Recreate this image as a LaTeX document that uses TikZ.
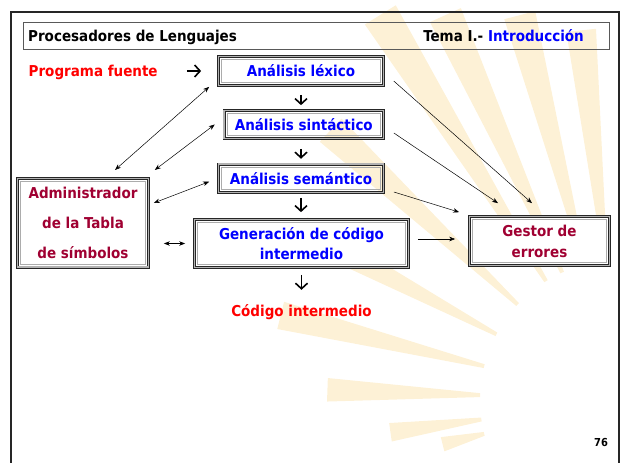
\documentclass[tikz,border=0pt]{standalone}
\usepackage{fontspec}
\IfFontExistsTF{DejaVu Sans Condensed}{\setmainfont{DejaVu Sans Condensed}}{\setmainfont{DejaVu Sans}[FakeStretch=0.9]}
\usetikzlibrary{arrows.meta}
\definecolor{azul}{RGB}{0,0,255}
\definecolor{rojo}{RGB}{255,0,0}
\definecolor{granate}{RGB}{160,0,50}
\definecolor{sol}{RGB}{253,241,214}

\begin{document}
\begin{tikzpicture}[x=1pt,y=-1pt,
    box_node/.style={draw=black!85,line width=0.9pt,double=gray!60,double distance=1.6pt,inner sep=0pt,align=center,
        font=\fontsize{15}{20}\selectfont\bfseries,
        path picture={\draw[gray!65,line width=0.6pt] ([shift={(3pt,3pt)}]path picture bounding box.south west) rectangle ([shift={(-3pt,-3pt)}]path picture bounding box.north east);}},
    lbl/.style={inner sep=0pt,font=\fontsize{15}{18}\selectfont\bfseries},
    thick_arrow/.style={-{Straight Barb[length=5.5pt,width=12pt]},line width=1.6pt},
    thin_arrow/.style={-{Stealth[length=6pt,width=4.5pt]},line width=0.5pt},
    dbl_arrow/.style={{Stealth[length=6pt,width=4.5pt]}-{Stealth[length=6pt,width=4.5pt]},line width=0.5pt}]
    \useasboundingbox (0,0) rectangle (621,463);
    \begin{scope}[shift={(620,400)},y=1pt]
        \foreach \a/\r in {96/372,104.6/398,114.4/423,121.9/454,137/396,152/362,166/350,178/293,188/232,194/183}
            \fill[sol] ({\a-0.8}:140) -- ({\a-2.3}:\r) -- ({\a+2.3}:\r) -- ({\a+0.8}:140) -- cycle;
    \end{scope}
    \draw[line width=2pt,black!85] (11,463) -- (11,11.5) -- (618.5,11.5) -- (618.5,463);
    \node[draw=gray!70!black,line width=0.6pt,minimum width=586pt,minimum height=27pt,inner sep=0pt] (head) at (315.8,35.8) {};
    \node[lbl,anchor=base west] (tit) at (28,41.7) {Procesadores de Lenguajes};
    \node[lbl,anchor=base east] (tema) at (584,41.7) {Tema I.- \textcolor{azul}{Introducción}};

    \node[lbl,text=rojo,anchor=base west] (prog) at (28.5,76) {Programa fuente};
    \node[box_node,text=azul,minimum width=164.8pt,minimum height=28.8pt] (lex) at (301,71) {Análisis léxico};
    \node[box_node,text=azul,minimum width=159.2pt,minimum height=27.8pt] (sin) at (303.8,124.5) {Análisis sintáctico};
    \node[box_node,text=azul,minimum width=164.8pt,minimum height=28.2pt] (sem) at (301,178.3) {Análisis semántico};
    \node[box_node,text=azul,fill=white,minimum width=213.8pt,minimum height=47.8pt] (gen) at (301.5,243.5) {Generación de código\\intermedio};
    \node[box_node,text=granate,fill=white,minimum width=130.8pt,minimum height=88.8pt,font=\fontsize{15}{30}\selectfont\bfseries] (adm) at (83,222.8) {Administrador\\de la Tabla\\de símbolos};
    \node[box_node,text=granate,fill=white,minimum width=139.8pt,minimum height=48.8pt,font=\fontsize{15}{21}\selectfont\bfseries] (ges) at (539.5,241) {Gestor de\\errores};
    \node[lbl,text=rojo,anchor=base] (cod) at (301.5,316) {Código intermedio};
    \node[lbl,font=\fontsize{11}{13}\selectfont\bfseries,anchor=base] (pag) at (601,446) {76};

    \draw[thick_arrow,shorten <=29pt,shorten >=17pt] (prog.east |- lex.west) -- (lex.west);
    \draw[thick_arrow,shorten <=9pt,shorten >=5pt] (lex.south) -- (lex.south |- sin.north);
    \draw[thick_arrow,shorten <=10pt,shorten >=5pt] (sin.south -| sem.north) -- (sem.north);
    \draw[thick_arrow,shorten <=5pt,shorten >=7pt] (sem.south) -- (sem.south |- gen.north);
    \draw[thick_arrow,shorten <=7pt,shorten >=14pt] (gen.south) -- (cod.north);

    \draw[dbl_arrow] ([xshift=32pt,yshift=8pt]adm.north) -- ([xshift=-9pt,yshift=-1pt]lex.south west);
    \draw[dbl_arrow] ([xshift=6pt,yshift=8pt]adm.north east) -- ([xshift=-9pt]sin.west);
    \draw[dbl_arrow] ([xshift=5pt,yshift=-25pt]adm.north east) -- ([xshift=-9pt,yshift=-3.4pt]sem.west);
    \draw[dbl_arrow] ([xshift=15pt,yshift=-20.7pt]adm.east) -- ([xshift=-9pt]gen.west);

    \draw[thin_arrow] ([xshift=10pt,yshift=4.75pt]lex.south east) -- ([xshift=-7.5pt,yshift=13pt]ges.north);
    \draw[thin_arrow] ([xshift=10pt,yshift=-8.5pt]sin.east) -- ([xshift=-41.5pt,yshift=13pt]ges.north);
    \draw[thin_arrow] ([xshift=10pt,yshift=-13.7pt]sem.east) -- ([xshift=-10pt,yshift=4pt]ges.north west);
    \draw[thin_arrow] ([xshift=9pt,yshift=4.5pt]gen.east) -- ([xshift=-14pt,yshift=2pt]ges.west);
\end{tikzpicture}
\end{document}
